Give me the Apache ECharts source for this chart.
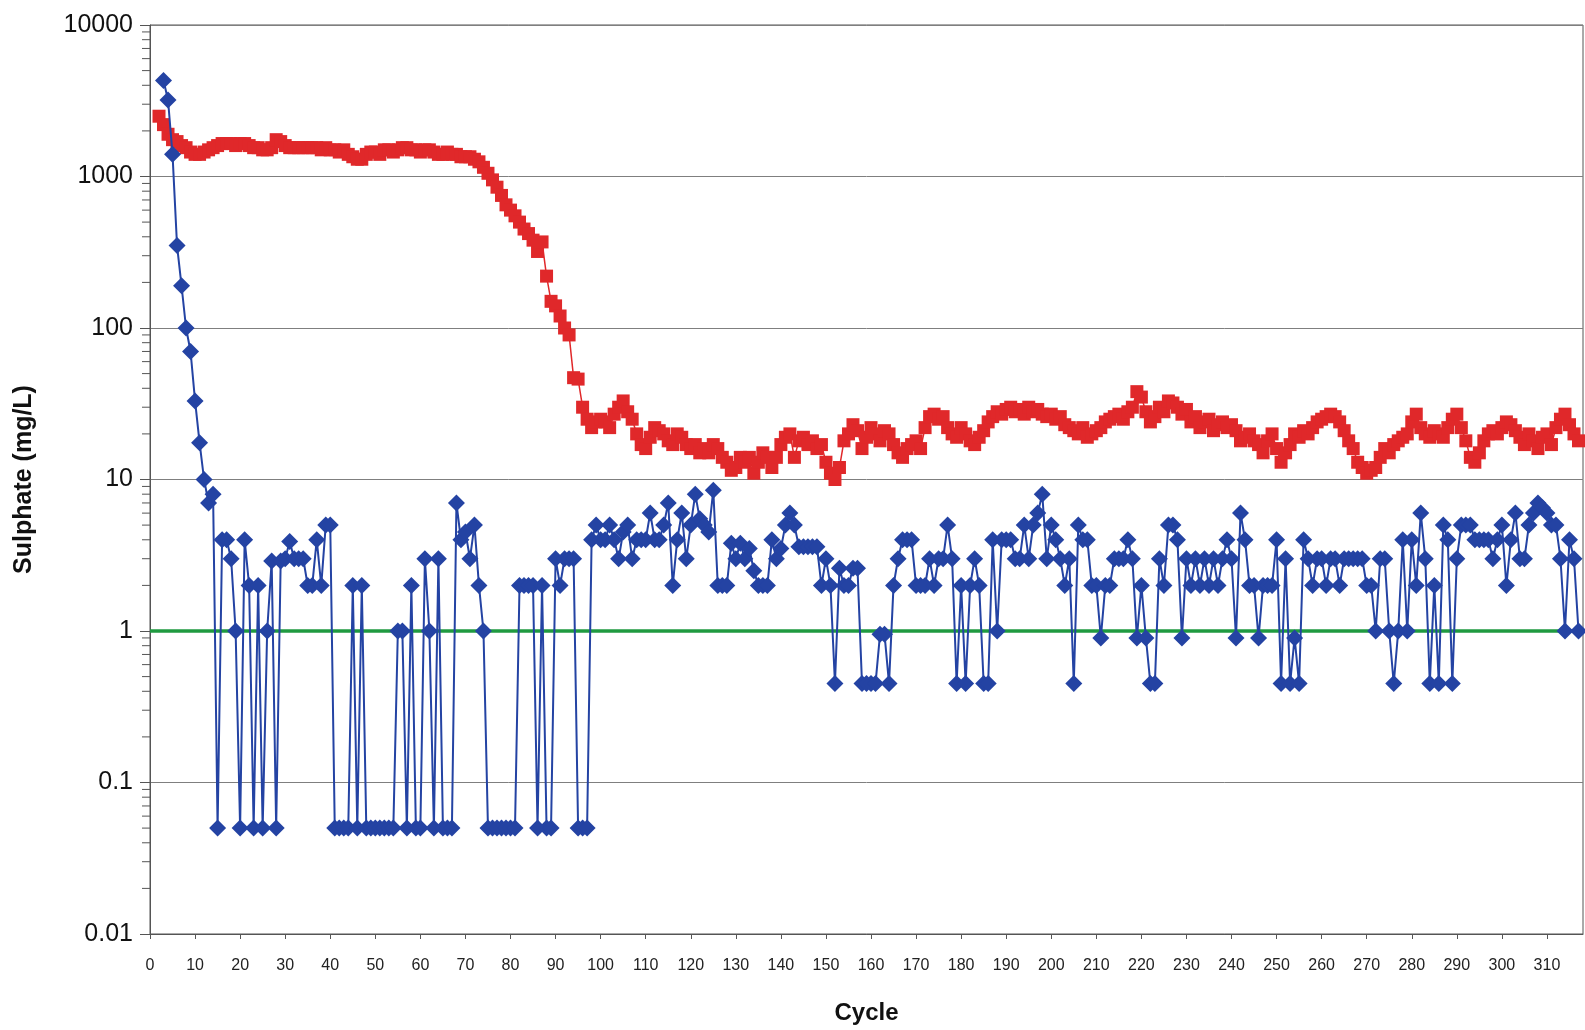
<!DOCTYPE html>
<html>
<head>
<meta charset="utf-8">
<script src="https://cdn.jsdelivr.net/npm/echarts@6/dist/echarts.min.js"></script>
<style>
  html, body { margin: 0; padding: 0; background: #ffffff; }
  #chart { width: 1585px; height: 1030px; }
</style>
</head>
<body>
<div id="chart"></div>
<script>
// ---- Data ----
const xTickLabels = [0,10,20,30,40,50,60,70,80,90,100,110,120,130,140,150,160,170,180,190,200,210,220,230,240,250,260,270,280,290,300,310];
const yTickLabels = [0.01, 0.1, 1, 10, 100, 1000, 10000];

const redStartCycle = 2;
const redValues = [
  2500,2200,1900,1750,1700,1600,1550,1450,1400,1400,1450,1500,1550,1600,1650,1650,1650,1600,1650,1650,1600,1550,1550,1500,1500,1550,1750,1700,1600,1550,1550,1550,1550,
  1550,1550,1550,1500,1550,1500,1500,1450,1500,1400,1350,1300,1300,1400,1450,1450,1400,1500,1500,1450,1500,1550,1550,1500,1500,1450,1500,1500,1450,1400,1400,1450,1400,
  1400,1350,1350,1350,1300,1250,1150,1050,950,850,750,650,600,550,500,450,420,380,320,370,220,150,140,120,100,90,47,46,30,25,22,24,25,
  24,22,27,30,33,28,25,20,17,16,19,22,21,20,18,17,20,19,17,16,17,15,16,15,17,16,14,13,11.5,12,14,13,
  14,11,13,15,14,12,14,17,19,20,14,18,19,17,18,16,17,13,11,10,12,18,20,23,21,16,19,22,20,18,21,
  20,17,15,14,16,17,18,16,22,26,27,25,26,22,20,19,22,20,18,17,19,21,24,26,28,27,29,30,28,29,27,
  30,28,29,27,26,27,25,26,23,22,21,20,22,19,20,21,22,24,25,26,27,25,28,30,38,35,28,24,26,30,28,
  33,32,30,27,29,24,26,22,24,25,21,23,24,22,23,21,18,19,20,18,17,15,18,20,16,13,15,17,20,19,21,
  20,22,24,25,26,27,26,24,21,18,16,13,12,11,11.5,12,14,16,15,17,18,19,20,24,27,22,20,19,21,20,19,
  22,25,27,22,18,14,13,15,18,20,21,20,22,24,23,21,19,17,20,18,16,19,20,17,22,25,27,23,20,18
];

const blueStartCycle = 3;
const blueValues = [
  4300,3200,1400,350,190,100,70,33,17.5,10,7,8,
  0.05,4,4,3,1,0.05,4,2,0.05,2,0.05,1,2.9,0.05,2.9,3,3.9,3,3,
  3,2,2,4,2,5,5,
  0.05,0.05,0.05,0.05,2,0.05,2,0.05,0.05,0.05,0.05,0.05,0.05,0.05,
  1,1,0.05,2,0.05,0.05,3,1,0.05,3,0.05,0.05,0.05,
  7,4,4.5,3,5,2,1,0.05,0.05,0.05,0.05,0.05,0.05,0.05,
  2,2,2,2,0.05,2,0.05,0.05,3,2,3,3,3,0.05,0.05,0.05,4,5,4,
  4,5,4,3,4.5,5,3,4,4,4,6,4,4,5,7,2,4,6,3,5,8,5.5,5,4.5,8.5,2,2,2,3.8,3,3.8,3,
  3.5,2.5,2,2,2,4,3,3.5,5,6,5,3.6,3.6,3.6,3.6,3.6,2,3,2,0.45,2.6,2,2,2.6,2.6,0.45,0.45,0.45,0.45,0.95,0.95,
  0.45,2,3,4,4,4,2,2,2,3,2,3,3,5,3,0.45,2,0.45,2,3,2,0.45,0.45,4,1,4,4,4,3,3,5,
  3,5,6,8,3,5,4,3,2,3,0.45,5,4,4,2,2,0.9,2,2,3,3,3,4,3,0.9,2,0.9,0.45,0.45,3,2,
  5,5,4,0.9,3,2,3,2,3,2,3,2,3,4,3,0.9,6,4,2,2,0.9,2,2,2,4,0.45,3,0.45,0.9,0.45,4,
  3,2,3,3,2,3,3,2,3,3,3,3,3,2,2,1,3,3,1,0.45,1,4,1,4,2,6,3,0.45,2,0.45,5,
  4,0.45,3,5,5,5,4,4,4,4,3,4,5,2,4,6,3,3,5,6,7,6.5,6,5,5,3,1,4,3,1
];

const limitValue = 1;
const xMin = 0, xMax = 318;

// ---- Build series data ----
const redData = redValues.map((v, i) => [redStartCycle + i, v]);
const blueData = blueValues.map((v, i) => [blueStartCycle + i, v]);
const limitData = [[xMin, limitValue], [xMax, limitValue]];

// log minor ticks (2..9 in each decade) drawn as axis decoration
const minorTickData = [];
for (let d = 0; d < yTickLabels.length - 1; d++) {
  for (let m = 2; m <= 9; m++) {
    minorTickData.push([0, +(yTickLabels[d] * m).toPrecision(3)]);
  }
}

const FONT = '"Liberation Sans", Arial, sans-serif';
const chart = echarts.init(document.getElementById('chart'), null, { renderer: 'canvas' });

chart.setOption({
  animation: false,
  backgroundColor: '#ffffff',
  grid: {
    left: 150, right: 2, top: 25, bottom: 92,
    show: true, borderColor: '#555555', borderWidth: 1, backgroundColor: 'transparent'
  },
  xAxis: {
    type: 'value',
    min: xMin, max: xMax, interval: 10,
    name: 'Cycle',
    nameLocation: 'middle',
    nameGap: 67,
    nameTextStyle: { fontFamily: FONT, fontSize: 24, fontWeight: 'bold', color: '#111' },
    axisLine: { show: true, lineStyle: { color: '#555555', width: 1 } },
    axisTick: { show: true, length: 5, lineStyle: { color: '#555555' } },
    axisLabel: {
      fontFamily: FONT, fontSize: 16, color: '#222', margin: 24,
      showMaxLabel: false,
      formatter: v => (xTickLabels.indexOf(v) >= 0 ? String(v) : '')
    },
    splitLine: { show: false }
  },
  yAxis: {
    type: 'log',
    logBase: 10,
    min: yTickLabels[0], max: yTickLabels[yTickLabels.length - 1],
    splitNumber: 6,
    name: 'Sulphate (mg/L)',
    nameLocation: 'middle',
    nameGap: 113,
    nameTextStyle: { fontFamily: FONT, fontSize: 25, fontWeight: 'bold', color: '#111' },
    axisLine: { show: true, lineStyle: { color: '#555555', width: 1 } },
    axisTick: { show: true, length: 10, lineStyle: { color: '#555555' } },
    axisLabel: {
      fontFamily: FONT, fontSize: 25, color: '#111', margin: 17,
      formatter: v => {
        const r = +(+v).toPrecision(4);
        return yTickLabels.indexOf(r) >= 0 ? String(r) : '';
      }
    },
    splitLine: { show: true, lineStyle: { color: '#7f7f7f', width: 1 } }
  },
  series: [
    {
      name: 'minorTicks',
      type: 'custom',
      silent: true,
      clip: false,
      z: 1,
      data: minorTickData,
      renderItem: (params, api) => {
        const p = api.coord([api.value(0), api.value(1)]);
        return {
          type: 'line',
          shape: { x1: p[0] - 8, y1: p[1], x2: p[0], y2: p[1] },
          style: { stroke: '#555555', lineWidth: 1 }
        };
      }
    },
    {
      name: 'Limit',
      type: 'line',
      data: limitData,
      symbol: 'none',
      z: 2,
      lineStyle: { color: '#1f9a40', width: 3.5 }
    },
    {
      name: 'Influent',
      type: 'line',
      data: redData,
      symbol: 'rect',
      symbolSize: 13,
      showSymbol: true,
      z: 3,
      itemStyle: { color: '#e0282a' },
      lineStyle: { color: '#e0282a', width: 1.5 }
    },
    {
      name: 'Effluent',
      type: 'line',
      data: blueData,
      symbol: 'diamond',
      symbolSize: 17,
      showSymbol: true,
      z: 4,
      itemStyle: { color: '#2443a3' },
      lineStyle: { color: '#2443a3', width: 2 }
    }
  ]
});
</script>
</body>
</html>
